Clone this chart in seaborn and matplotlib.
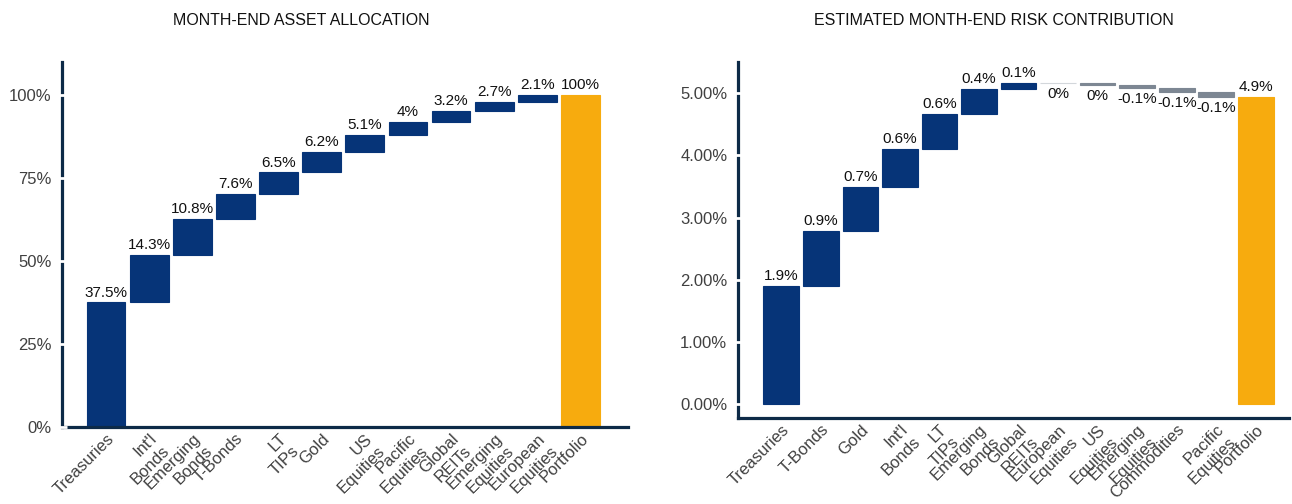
import matplotlib
matplotlib.use("Agg")
import matplotlib.pyplot as plt
import numpy as np
import pandas as pd
import seaborn as sns

# left chart: month-end asset allocation (%)
alloc_names = ["Treasuries", "Int'l\nBonds", "Emerging\nBonds", "T-Bonds", "LT\nTIPs", "Gold",
               "US\nEquities", "Pacific\nEquities", "Global\nREITs", "Emerging\nEquities",
               "European\nEquities"]
alloc_values = [37.5, 14.3, 10.8, 7.6, 6.5, 6.2, 5.1, 4.0, 3.2, 2.7, 2.1]

# right chart: estimated month-end risk contribution (%)
risk_names = ["Treasuries", "T-Bonds", "Gold", "Int'l\nBonds", "LT\nTIPs", "Emerging\nBonds",
              "Global\nREITs", "European\nEquities", "US\nEquities", "Emerging\nEquities",
              "Commodities", "Pacific\nEquities"]
risk_values = [1.90, 0.89, 0.70, 0.61, 0.57, 0.40, 0.10, 0.0, -0.04, -0.05, -0.06, -0.08]

total_name = "Portfolio"

NAVY = "#063478"
ORANGE = "#f7ab0e"
GREY = "#7d8793"
LIGHT = "#d3d7db"
SPINE = "#0d2a47"
TICKTXT = "#404040"

sns.set_theme(style="white")
plt.rcParams["font.family"] = ["Liberation Sans", "DejaVu Sans"]


def label_text(v):
    return f"{round(v, 1) + 0.0:g}%"


def waterfall(ax, names, values, ylim, yticks, yfmt, xlim):
    vals = np.array(values, dtype=float)
    ends = np.cumsum(vals)
    starts = ends - vals
    df = pd.DataFrame({
        "item": names + [total_name],
        "height": np.append(vals, ends[-1]),
        "bottom": np.append(starts, 0.0),
    })
    sns.barplot(data=df, x="item", y="height", bottom=df["bottom"].to_numpy(),
                width=0.9, errorbar=None, color=NAVY, ax=ax)

    colors = []
    for v in vals:
        if v > 0:
            colors.append(NAVY)
        elif v < 0:
            colors.append(GREY)
        else:
            colors.append(LIGHT)
    colors.append(ORANGE)
    for p, c in zip(ax.patches, colors):
        p.set_facecolor(c)
        p.set_edgecolor(c)
        p.set_linewidth(0.8)

    for i, (h, b) in enumerate(zip(df["height"], df["bottom"])):
        if h > 0:
            ax.annotate(label_text(h), (i, b + h), xytext=(0, 2), textcoords="offset points",
                        ha="center", va="bottom", fontsize=11, color="#111111")
        else:
            ax.annotate(label_text(h), (i, b + min(h, 0)), xytext=(0, -3),
                        textcoords="offset points", ha="center", va="top",
                        fontsize=11, color="#111111")

    ax.set_ylim(*ylim)
    ax.set_xlim(*xlim)
    ax.set_yticks(yticks)
    ax.set_yticklabels([yfmt.format(t) for t in yticks])
    ax.set_xlabel("")
    ax.set_ylabel("")
    ax.set_xticks(range(len(df)))
    ax.set_xticklabels(df["item"], rotation=45, ha="right", rotation_mode="anchor")

    sns.despine(ax=ax)
    for side in ["left", "bottom"]:
        ax.spines[side].set_color(SPINE)
        ax.spines[side].set_linewidth(2.3)
    ax.tick_params(axis="y", direction="inout", length=7, width=2, color="white",
                   labelcolor=TICKTXT, labelsize=12, pad=4, left=True)
    ax.tick_params(axis="x", length=0, labelcolor=TICKTXT, labelsize=12, pad=3)
    ax.set_axisbelow(False)
    ax.yaxis.set_zorder(3)


fig = plt.figure(figsize=(12.92, 5.04), dpi=100)
ax1 = fig.add_axes([0.048, 0.153, 0.438, 0.724])
ax2 = fig.add_axes([0.571, 0.171, 0.427, 0.706])

waterfall(ax1, alloc_names, alloc_values, (0, 110), [0, 25, 50, 75, 100], "{:.0f}%",
          (-1.02, 12.1))
waterfall(ax2, risk_names, risk_values, (-0.22, 5.5), [0, 1, 2, 3, 4, 5], "{:.2f}%",
          (-1.1, 12.85))

fig.text(0.233, 0.96, "MONTH-END ASSET ALLOCATION", ha="center", va="center",
         fontsize=11.5, color="#111111")
fig.text(0.769, 0.96, "ESTIMATED MONTH-END RISK CONTRIBUTION", ha="center", va="center",
         fontsize=11.5, color="#111111")

fig.savefig("out.png", dpi=100)
